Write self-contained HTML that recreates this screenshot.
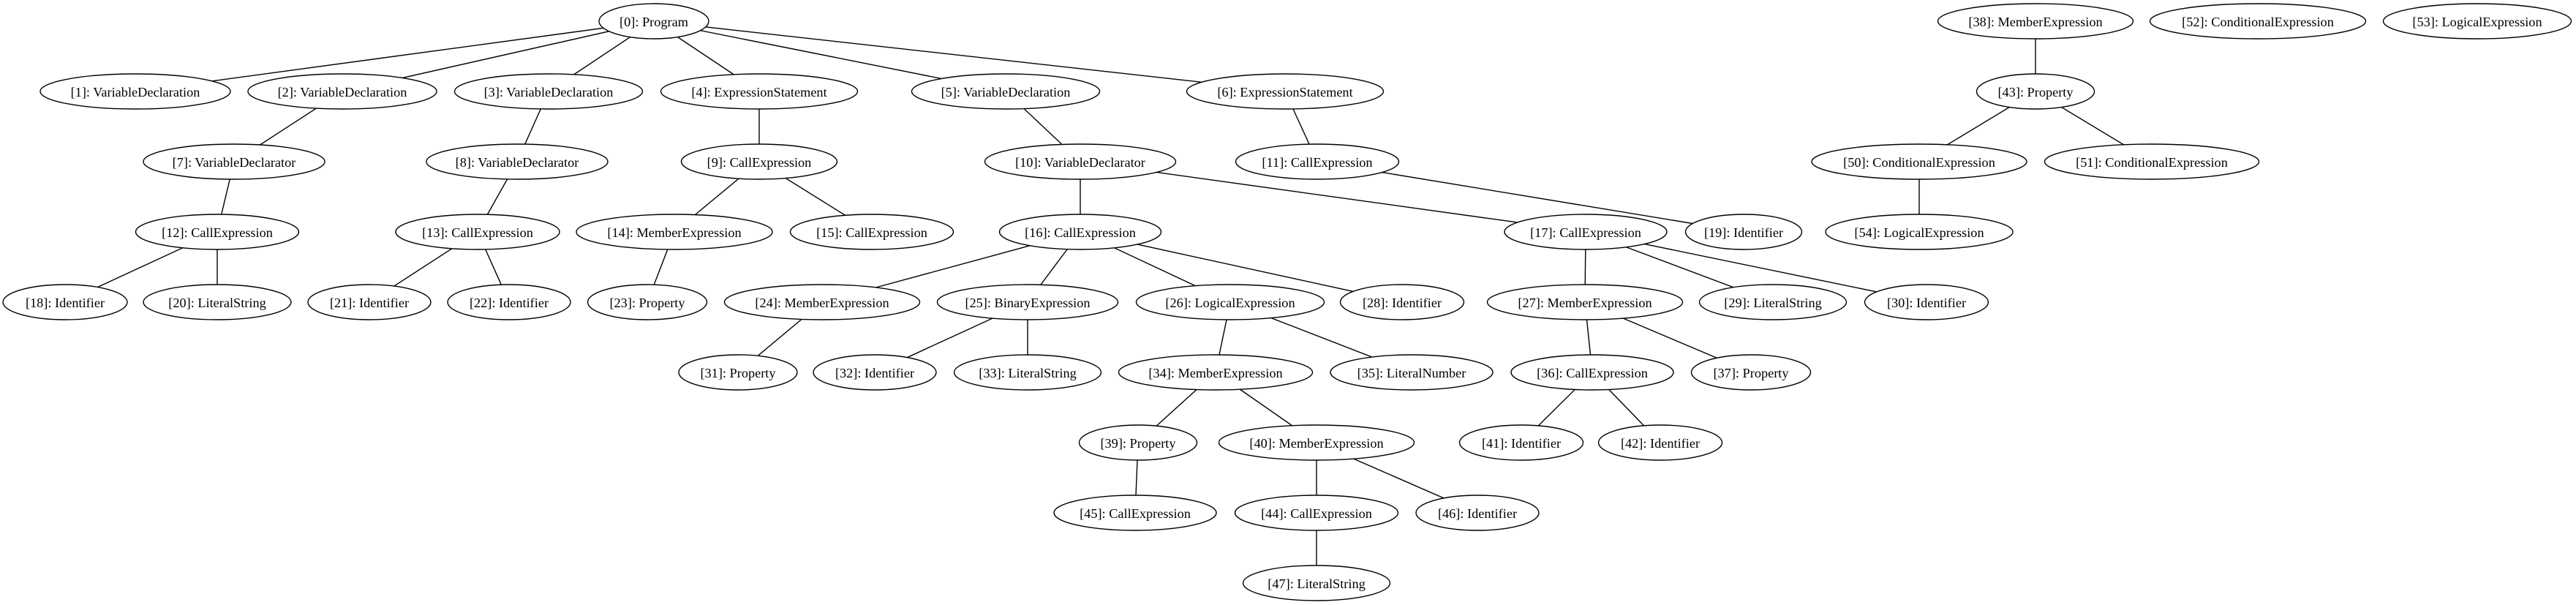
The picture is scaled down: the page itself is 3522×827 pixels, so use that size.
<!DOCTYPE html>
<html><head><meta charset="utf-8"><style>
html,body{margin:0;padding:0;background:#fff;}
svg{display:block;}
text{font-family:"Liberation Serif","Times New Roman",serif;font-size:18.3px;text-anchor:middle;dominant-baseline:central;fill:#000;}
ellipse{fill:#fff;stroke:#000;stroke-width:1.4;}
line{stroke:#000;stroke-width:1.4;}
</style></head><body>
<svg id="g" width="3522" height="827" viewBox="0 0 3522 827" xmlns="http://www.w3.org/2000/svg"></svg>
<script>
var R=[29,125,221,317,413,509,605,701,797];
var N={
0:[894,0,150,"Program"],
1:[185,1,260,"VariableDeclaration"],
2:[468,1,258,"VariableDeclaration"],
3:[750,1,257,"VariableDeclaration"],
4:[1038,1,269,"ExpressionStatement"],
5:[1375,1,257,"VariableDeclaration"],
6:[1757,1,269,"ExpressionStatement"],
7:[320,2,248,"VariableDeclarator"],
8:[707,2,248,"VariableDeclarator"],
9:[1038,2,213,"CallExpression"],
10:[1477,2,261,"VariableDeclarator"],
11:[1801,2,223,"CallExpression"],
12:[297,3,223,"CallExpression"],
13:[653,3,224,"CallExpression"],
14:[922,3,268,"MemberExpression"],
15:[1192,3,223,"CallExpression"],
16:[1477,3,221,"CallExpression"],
17:[2168,3,222,"CallExpression"],
19:[2384,3,159,"Identifier"],
18:[89,4,170,"Identifier"],
20:[297,4,202,"LiteralString"],
21:[505,4,168,"Identifier"],
22:[696,4,168,"Identifier"],
23:[885,4,163,"Property"],
24:[1124,4,267,"MemberExpression"],
25:[1405,4,247,"BinaryExpression"],
26:[1682,4,257,"LogicalExpression"],
28:[1917,4,169,"Identifier"],
27:[2167,4,267,"MemberExpression"],
29:[2424,4,201,"LiteralString"],
30:[2634,4,169,"Identifier"],
31:[1009,5,162,"Property"],
32:[1196,5,168,"Identifier"],
33:[1405,5,201,"LiteralString"],
34:[1662,5,265,"MemberExpression"],
35:[1930,5,222,"LiteralNumber"],
36:[2177,5,222,"CallExpression"],
37:[2394,5,163,"Property"],
39:[1556,6,161,"Property"],
40:[1800,6,267,"MemberExpression"],
41:[2080,6,169,"Identifier"],
42:[2270,6,169,"Identifier"],
45:[1552,7,222,"CallExpression"],
44:[1800,7,223,"CallExpression"],
46:[2020,7,168,"Identifier"],
47:[1800,8,201,"LiteralString"],
38:[2783,0,267,"MemberExpression"],
52:[3087,0,295,"ConditionalExpression"],
53:[3387,0,257,"LogicalExpression"],
43:[2783,1,161,"Property"],
50:[2624,2,294,"ConditionalExpression"],
51:[2942,2,293,"ConditionalExpression"],
54:[2624,3,256,"LogicalExpression"]
};
var E=[[0,1],[0,2],[0,3],[0,4],[0,5],[0,6],[2,7],[3,8],[4,9],[5,10],[6,11],[7,12],[8,13],[9,14],[9,15],[10,16],[10,17],[11,19],[12,18],[12,20],[13,21],[13,22],[14,23],[16,24],[16,25],[16,26],[16,28],[17,27],[17,29],[17,30],[24,31],[25,32],[25,33],[26,34],[26,35],[27,36],[27,37],[34,39],[34,40],[36,41],[36,42],[39,45],[40,44],[40,46],[44,47],[38,43],[43,50],[43,51],[50,54]];
var s="";
E.forEach(function(e){var a=N[e[0]],b=N[e[1]];s+='<line x1="'+a[0]+'" y1="'+R[a[1]]+'" x2="'+b[0]+'" y2="'+R[b[1]]+'"/>';});
for(var k in N){var n=N[k];s+='<ellipse cx="'+n[0]+'" cy="'+R[n[1]]+'" rx="'+(n[2]/2)+'" ry="24"/><text x="'+n[0]+'" y="'+(R[n[1]]+1)+'">['+k+']: '+n[3]+'</text>';}
document.getElementById("g").innerHTML=s;
</script>
</body></html>
